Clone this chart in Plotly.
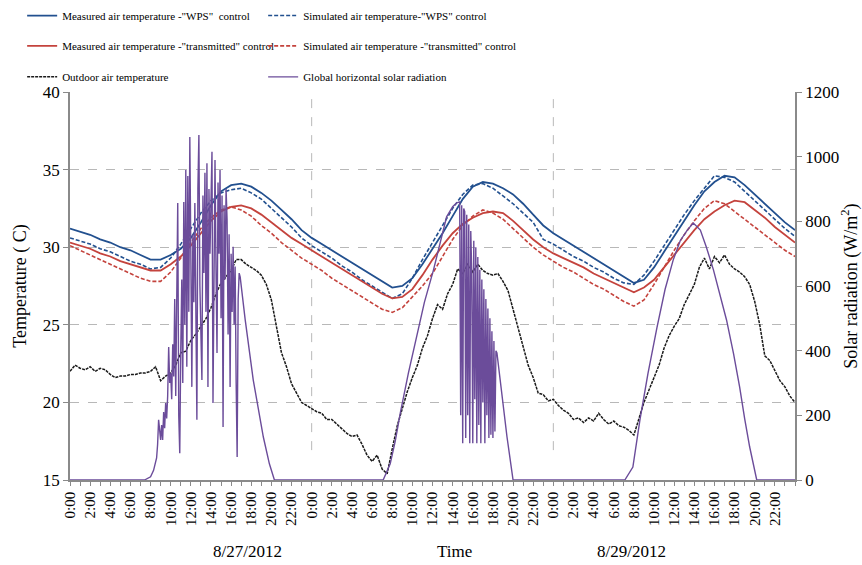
import plotly.graph_objects as go

# ---------------- data ----------------
hours = list(range(0, 73))  # hours since 8/27/2012 0:00

meas_wps = [31.2, 31.0, 30.8, 30.5, 30.3, 30.0, 29.8, 29.5, 29.2, 29.2, 29.5, 29.9, 30.6, 31.6, 32.7, 33.6, 34.0, 34.1, 33.9, 33.5, 33.0, 32.4, 31.8, 31.1, 30.6,
            30.2, 29.8, 29.4, 29.0, 28.6, 28.2, 27.8, 27.4, 27.5, 28.0, 28.9, 29.9, 30.9, 32.0, 33.1, 33.9, 34.2, 34.1, 33.8, 33.4, 32.8, 32.1, 31.4, 30.9,
            30.5, 30.1, 29.7, 29.3, 28.9, 28.5, 28.1, 27.7, 27.9, 28.7, 29.7, 30.7, 31.7, 32.7, 33.6, 34.2, 34.6, 34.5, 34.0, 33.4, 32.8, 32.2, 31.6, 31.1]

sim_wps = [30.6, 30.4, 30.2, 29.9, 29.7, 29.4, 29.1, 28.9, 28.6, 28.7, 29.3, 30.2, 31.2, 32.2, 33.0, 33.5, 33.7, 33.8, 33.5, 33.1, 32.5, 31.9, 31.3, 30.6, 30.1,
           29.7, 29.3, 28.8, 28.4, 27.9, 27.5, 27.1, 26.7, 27.0, 28.0, 29.2, 30.3, 31.4, 32.5, 33.4, 34.0, 34.1, 33.8, 33.3, 32.8, 32.2, 31.6, 30.5, 30.2,
           29.8, 29.4, 29.1, 28.7, 28.4, 28.0, 27.7, 27.6, 28.2, 29.1, 30.1, 31.1, 32.1, 33.0, 33.8, 34.6, 34.5, 34.2, 33.6, 33.0, 32.4, 31.8, 31.2, 30.7]

meas_trans = [30.3, 30.1, 29.9, 29.6, 29.4, 29.1, 28.9, 28.7, 28.5, 28.5, 28.9, 29.4, 30.1, 30.9, 31.7, 32.3, 32.6, 32.7, 32.5, 32.1, 31.6, 31.1, 30.6, 30.2, 29.8,
              29.4, 29.0, 28.6, 28.2, 27.8, 27.4, 27.0, 26.7, 26.8, 27.3, 28.2, 29.2, 30.1, 30.9, 31.5, 31.9, 32.2, 32.3, 32.2, 31.7, 31.1, 30.5, 30.0, 29.6,
              29.3, 29.0, 28.7, 28.3, 28.0, 27.7, 27.4, 27.1, 27.4, 27.9, 28.7, 29.5, 30.3, 31.1, 31.8, 32.3, 32.7, 33.0, 32.9, 32.4, 31.9, 31.3, 30.8, 30.3]

sim_trans = [30.1, 29.8, 29.5, 29.2, 28.9, 28.6, 28.3, 28.0, 27.8, 27.8, 28.4, 29.3, 30.3, 31.2, 31.9, 32.4, 32.6, 32.4, 32.0, 31.4, 30.9, 30.3, 29.8, 29.3, 28.9,
             28.5, 28.0, 27.6, 27.2, 26.8, 26.4, 26.0, 25.8, 26.1, 26.8, 27.5, 28.3, 29.4, 30.5, 31.4, 32.0, 32.4, 32.2, 31.8, 31.2, 30.6, 30.0, 29.5, 29.1,
             28.7, 28.4, 28.0, 27.6, 27.3, 26.9, 26.5, 26.2, 26.6, 27.6, 28.7, 29.8, 30.8, 31.7, 32.5, 33.0, 32.8, 32.3, 31.8, 31.3, 30.8, 30.3, 29.8, 29.4]

out_t = [i * 0.5 for i in range(145)]
out_temp = [22.0, 22.4, 22.2, 22.1, 22.3, 22.0, 22.2, 22.1, 21.8, 21.6, 21.7, 21.7, 21.8, 21.8, 21.9, 21.9,
            22.0, 22.3, 21.4, 21.7, 21.9, 22.4, 23.2, 23.3, 24.0, 24.4, 24.9, 25.4, 26.1, 27.0, 27.7, 28.1,
            28.5, 29.2, 29.2, 28.9, 28.7, 28.5, 28.2, 27.6, 26.6, 24.9, 23.2, 22.3, 21.2, 20.6, 20.0, 19.8,
            19.6, 19.4, 19.3, 18.9, 18.9, 18.6, 18.3, 18.0, 17.8, 17.9, 17.3, 16.6, 16.2, 16.6, 15.7, 15.4,
            17.0, 18.5, 19.6, 20.7, 21.6, 22.4, 23.5, 24.3, 25.4, 26.3, 26.0, 27.0, 27.6, 28.6, 28.3, 28.9,
            28.4, 28.9, 28.5, 28.3, 28.2, 28.3, 27.8, 27.2, 26.0, 24.8, 23.6, 22.4, 21.6, 20.6, 20.5, 20.1,
            20.2, 19.8, 19.5, 19.3, 18.9, 19.0, 18.7, 19.0, 18.8, 19.3, 18.9, 18.6, 18.8, 18.5, 18.4, 18.2,
            17.9, 19.0, 20.0, 20.8, 21.6, 22.4, 23.5, 24.3, 24.9, 25.4, 26.3, 27.0, 27.6, 28.7, 29.3, 28.6,
            29.4, 29.0, 29.5, 28.9, 28.6, 28.4, 28.1, 27.6, 26.5, 25.0, 23.0, 22.7, 22.0, 21.4, 21.0, 20.4, 20.0]

sol_t = [0, 7.4, 8.0, 8.3, 8.6, 8.7, 8.8, 8.9, 9.0, 9.1, 9.2, 9.3, 9.4, 9.5, 9.6, 9.7, 9.8, 9.9,
         10.0, 10.1, 10.2, 10.3, 10.4, 10.5, 10.6, 10.7, 10.8, 10.9, 11.0, 11.1, 11.2, 11.3, 11.4, 11.5, 11.6, 11.7, 11.8, 11.9,
         12.0, 12.1, 12.2, 12.3, 12.4, 12.5, 12.6, 12.7, 12.8, 12.9, 13.0, 13.1, 13.2, 13.3, 13.4, 13.5, 13.6, 13.7, 13.8, 13.9,
         14.0, 14.1, 14.2, 14.3, 14.4, 14.5, 14.6, 14.7, 14.8, 14.9, 15.0, 15.1, 15.2, 15.3, 15.4, 15.5, 15.6, 15.7, 15.8, 15.9,
         16.0, 16.1, 16.2, 16.3, 16.4, 16.5, 16.6, 16.7, 16.8, 16.9, 17.4, 18.2, 19.2, 19.8, 20.3,
         31.1, 31.8, 32.3, 32.8, 33.6, 34.4, 35.2, 36.1, 36.8, 37.4, 38.0, 38.4, 38.7,
         38.8, 38.9, 39.0, 39.1, 39.2, 39.3, 39.4, 39.5, 39.6, 39.7, 39.8, 39.9, 40.0, 40.1, 40.2, 40.3, 40.4, 40.5, 40.6, 40.7,
         40.8, 40.9, 41.0, 41.1, 41.2, 41.3, 41.4, 41.5, 41.6, 41.7, 41.8, 41.9, 42.0, 42.1, 42.2, 42.3, 42.4, 43.4, 44.0,
         55.1, 55.9, 56.6, 57.4, 58.3, 59.1, 59.9, 60.6, 61.3, 61.9, 62.6, 63.2, 63.9, 64.6, 65.2, 65.9, 66.5, 67.0, 67.5, 68.2, 72.0]
sol_rad = [0, 0, 10, 30, 68, 110, 186, 140, 124, 170, 124, 210, 160, 238, 190, 260, 411, 300,
           330, 250, 420, 320, 560, 260, 700, 857, 200, 83, 402, 620, 300, 860, 480, 959, 350, 940, 520, 1061,
           700, 288, 760, 550, 857, 400, 186, 900, 1067, 600, 420, 309, 880, 640, 950, 520, 980, 288, 900, 700,
           860, 1015, 238, 780, 990, 650, 393, 920, 700, 959, 500, 880, 164, 850, 620, 900, 804, 450, 760, 288,
           700, 520, 721, 480, 660, 300, 71, 560, 640, 628, 495, 309, 133, 50, 0,
           0, 50, 120, 207, 330, 442, 550, 650, 740, 814, 845, 857, 860,
           200, 850, 114, 840, 830, 130, 820, 200, 790, 114, 770, 640, 114, 740, 250, 720, 114, 690, 170, 650,
           114, 620, 240, 590, 114, 560, 200, 530, 130, 500, 140, 460, 130, 430, 150, 400, 393, 133, 0,
           0, 40, 186, 330, 473, 590, 680, 740, 773, 795, 773, 720, 650, 570, 495, 390, 288, 190, 102, 0, 0]

tick_hours = list(range(0, 72, 2))
tick_labels = [f"{h % 24}:00" for h in tick_hours]
day_bounds = [24, 48]

# ---------------- styles ----------------
FONT = "Liberation Serif"
BLUE = "#22508F"
RED = "#C4433D"
PURPLE = "#6B4C9A"
GRID = "#B8B8B8"
AXIS = "#8A8A8A"

fig = go.Figure()
fig.add_trace(go.Scatter(x=hours, y=meas_wps, mode="lines", name='Measured air temperature -"WPS"  control',
                         line=dict(color=BLUE, width=1.8), legend="legend"))
fig.add_trace(go.Scatter(x=hours, y=sim_wps, mode="lines", name='Simulated air temperature-"WPS" control',
                         line=dict(color=BLUE, width=1.6, dash="4px,2px"), legend="legend", legendwidth=260))
fig.add_trace(go.Scatter(x=hours, y=meas_trans, mode="lines", name='Measured air temperature -"transmitted" control',
                         line=dict(color=RED, width=1.8), legend="legend2"))
fig.add_trace(go.Scatter(x=hours, y=sim_trans, mode="lines", name='Simulated air temperature -"transmitted" control',
                         line=dict(color=RED, width=1.6, dash="4px,2px"), legend="legend2", legendwidth=260))
fig.add_trace(go.Scatter(x=out_t, y=out_temp, mode="lines", name="Outdoor air temperature",
                         line=dict(color="#1A1A1A", width=1.5, dash="3px,1px"), legend="legend3"))
fig.add_trace(go.Scatter(x=sol_t, y=sol_rad, mode="lines", name="Global horizontal solar radiation",
                         line=dict(color=PURPLE, width=1.4), yaxis="y2", legend="legend3", legendwidth=260))

leg_common = dict(orientation="h", xanchor="left", yanchor="middle", x=-0.066,
                  font=dict(family=FONT, size=11, color="black"), entrywidth=196, entrywidthmode="pixels",
                  bgcolor="rgba(0,0,0,0)", itemwidth=30)

fig.update_layout(
    width=862, height=565,
    margin=dict(l=70, r=67, t=92, b=85, autoexpand=False),
    paper_bgcolor="white", plot_bgcolor="white",
    font=dict(family=FONT, color="black", size=16),
    showlegend=True,
    legend=dict(leg_common, y=1.197),
    legend2=dict(leg_common, y=1.119),
    legend3=dict(leg_common, y=1.039),
    xaxis=dict(range=[0, 72], tickmode="array", tickvals=tick_hours, ticktext=tick_labels,
               tickangle=-90, tickfont=dict(size=15), ticks="outside", ticklen=4, tickcolor=AXIS,
               minor=dict(dtick=1, ticks="outside", ticklen=4, tickcolor=AXIS),
               showline=True, linecolor=AXIS, linewidth=1.5, showgrid=False, zeroline=False,
               automargin=False),
    yaxis=dict(range=[15, 40], dtick=5, ticks="outside", ticklen=5, tickcolor=AXIS,
               showline=True, linecolor=AXIS, linewidth=1.5, showgrid=True, gridcolor=GRID,
               griddash="dash", gridwidth=1, zeroline=False, tickfont=dict(size=17), automargin=False,
               title=dict(text="Temperature ( C)", font=dict(size=18), standoff=12)),
    yaxis2=dict(range=[0, 1200], dtick=200, overlaying="y", side="right", ticks="outside", ticklen=5,
                tickcolor=AXIS, showline=True, linecolor=AXIS, linewidth=1.5, showgrid=False,
                zeroline=False, tickfont=dict(size=17), automargin=False,
                title=dict(text="Solar radiation (W/m<sup>2</sup>)", font=dict(size=18), standoff=6)),
    annotations=[
        dict(text="8/27/2012", x=0.2455, y=-0.183, xref="paper", yref="paper", showarrow=False,
             font=dict(size=17), xanchor="center", yanchor="middle"),
        dict(text="Time", x=0.531, y=-0.183, xref="paper", yref="paper", showarrow=False,
             font=dict(size=17), xanchor="center", yanchor="middle"),
        dict(text="8/29/2012", x=0.775, y=-0.183, xref="paper", yref="paper", showarrow=False,
             font=dict(size=17), xanchor="center", yanchor="middle"),
    ],
    shapes=[dict(type="line", xref="x", yref="paper", x0=d, x1=d, y0=0.077, y1=1,
                 line=dict(color=GRID, width=1, dash="dash"), layer="below") for d in day_bounds],
)

fig.write_html("out.html")
